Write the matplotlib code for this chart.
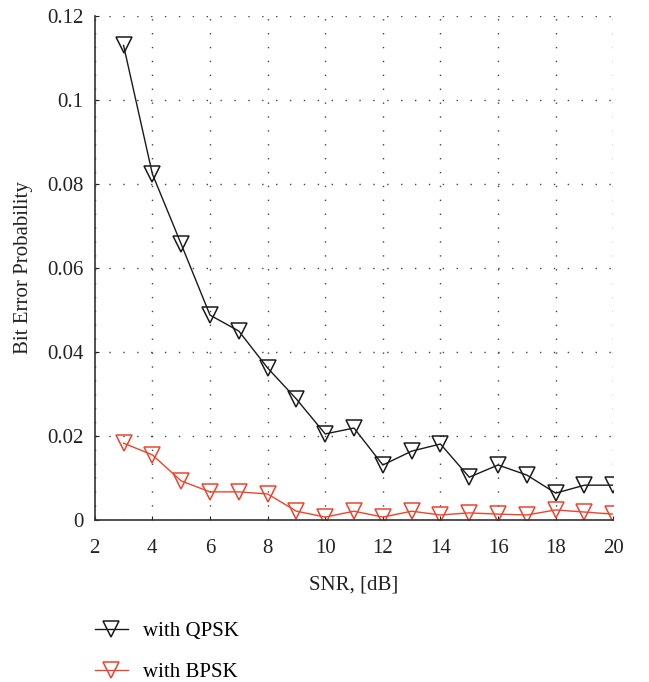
import numpy as np
import matplotlib.pyplot as plt

# data
snr = [3, 4, 5, 6, 7, 8, 9, 10, 11, 12, 13, 14, 15, 16, 17, 18, 19, 20]
ber_qpsk = [0.113, 0.0824, 0.0657, 0.0488, 0.0450, 0.0362, 0.0288, 0.0205, 0.0219,
            0.0131, 0.0164, 0.0181, 0.0102, 0.0131, 0.0107, 0.0064, 0.0083, 0.0083]
ber_bpsk = [0.0183, 0.0155, 0.0093, 0.0067, 0.0067, 0.0062, 0.0021, 0.0007, 0.0021,
            0.0007, 0.0021, 0.0012, 0.0017, 0.0014, 0.0012, 0.0024, 0.0019, 0.0014]

plt.rcParams['font.family'] = ['Liberation Serif', 'DejaVu Serif']

fig = plt.figure(figsize=(6.49, 6.82), dpi=100)
ax = fig.add_axes([0.146, 0.2375, 0.799, 0.739])

red = '#f0432c'
ax.plot(snr, ber_qpsk, color='#1a1a1a', lw=1.0, marker='v', ms=12,
        markerfacecolor='none', markeredgecolor='#1a1a1a', mew=1.1, label='with QPSK')
ax.plot(snr, ber_bpsk, color=red, lw=1.0, marker='v', ms=12,
        markerfacecolor='none', markeredgecolor=red, mew=1.1, label='with BPSK')

ax.set_xlim(2, 20)
ax.set_ylim(0, 0.12)
ax.set_xticks(np.arange(2, 21, 2))
ax.set_yticks([0, 0.02, 0.04, 0.06, 0.08, 0.1, 0.12])
ax.set_yticklabels(['0', '0.02', '0.04', '0.06', '0.08', '0.1', '0.12'])
ax.grid(True, linestyle=(0, (1, 9)), color='#444444', lw=1.0)

ax.spines['top'].set_visible(False)
ax.spines['right'].set_visible(False)
ax.spines['left'].set_color('#333333')
ax.spines['bottom'].set_color('#333333')
ax.spines['left'].set_linewidth(1.2)
ax.spines['bottom'].set_linewidth(1.2)
ax.tick_params(direction='in', length=3, labelsize=15, colors='#222222')
ax.tick_params(axis='x', pad=14)
ax.tick_params(axis='y', pad=8)

ax.set_xlabel('SNR, [dB]', fontsize=15, labelpad=12, color='#222222')
ax.set_ylabel('Bit Error Probability', fontsize=15, labelpad=10, color='#222222')

fig.legend(loc='lower left', bbox_to_anchor=(0.118, -0.028), frameon=False,
           fontsize=15, handlelength=1.55, labelspacing=1.05, handletextpad=0.75)

fig.savefig('out.png', dpi=100)
